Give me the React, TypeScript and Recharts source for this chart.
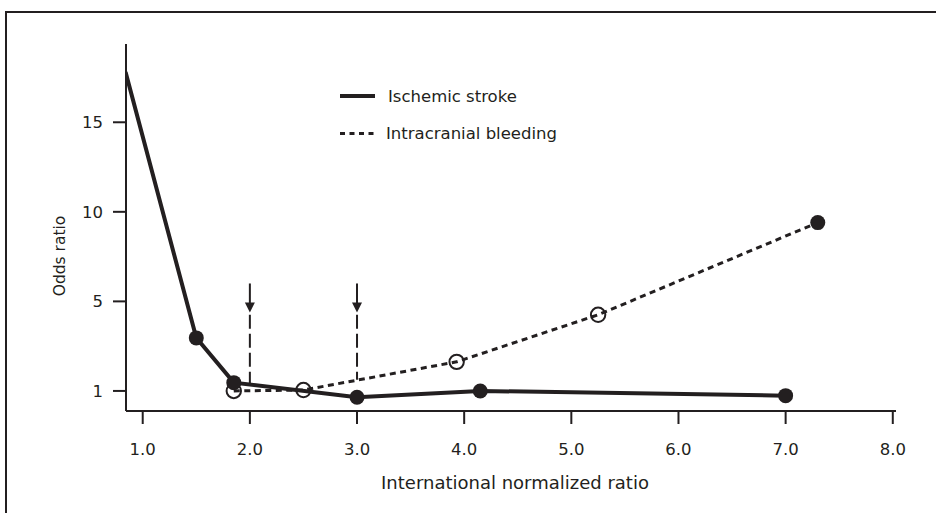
import React from 'react';
import { LineChart, Line, XAxis, YAxis, ReferenceLine, ReferenceDot, Customized } from 'recharts';

// Ischemic stroke (solid line, filled markers)
const strokeINR = [0.84, 1.5, 1.85, 3.0, 4.15, 7.0];
const strokeOR = [17.8, 3.37, 1.37, 0.72, 1.0, 0.79];
// Intracranial bleeding (dashed line, open markers, last filled)
const bleedINR = [1.85, 2.5, 3.93, 5.25, 7.3];
const bleedOR = [1.0, 1.04, 2.3, 4.4, 9.4];

const xTicks = [1, 2, 3, 4, 5, 6, 7, 8];
const yTickLabels = [1, 5, 10, 15];

// Therapeutic range markers
const targetINR = [2.0, 3.0];
const targetTop = 6.0;
const targetTip = 4.5;
const targetBottom = [1.35, 1.5];

const INK = '#231f20';
const FONT = '"DejaVu Sans", sans-serif';

// axis position for an odds ratio (the chart's y axis puts 1 where 0 would be)
const toAxis = (v: number) => (v >= 5 ? v : ((v - 1) * 5) / 4);
const fromAxis = (a: number) => (a >= 5 ? a : 1 + (a * 4) / 5);

const strokeData = strokeINR.map((x, i) => ({ x, y: toAxis(strokeOR[i]) }));
const bleedData = bleedINR.map((x, i) => ({ x, y: toAxis(bleedOR[i]) }));
const yTicks = yTickLabels.map(toAxis);

const bleedDot = (props: any) => {
  const { cx, cy, index } = props;
  const last = index === bleedData.length - 1;
  if (last) return <circle key={`bd${index}`} cx={cx} cy={cy} r={7.5} fill={INK} stroke="none" />;
  return <circle key={`bd${index}`} cx={cx} cy={cy} r={7.2} fill="none" stroke={INK} strokeWidth={2} />;
};

const strokeDot = (props: any) => {
  const { cx, cy, index } = props;
  if (index === 0) return <g key={`sd${index}`} />;
  return <circle key={`sd${index}`} cx={cx} cy={cy} r={7.5} fill={INK} stroke="none" />;
};

const arrowHead = (props: any) => {
  const { cx, cy } = props;
  return <path d={`M${cx - 5},${cy - 10} L${cx + 5},${cy - 10} L${cx},${cy} Z`} fill={INK} stroke="none" />;
};

const Decorations = () => (
  <g fontFamily={FONT} fill={INK}>
    <line x1={340} y1={96} x2={375} y2={96} stroke={INK} strokeWidth={4} />
    <text x={388} y={101.5} fontSize={16.5}>Ischemic stroke</text>
    <line x1={340} y1={133.5} x2={375} y2={133.5} stroke={INK} strokeWidth={3} strokeDasharray="5 4.5" />
    <text x={386} y={139} fontSize={16.5}>Intracranial bleeding</text>
    <text x={515} y={488.5} fontSize={18} textAnchor="middle">International normalized ratio</text>
    <text x={0} y={0} fontSize={15.5} textAnchor="middle" transform="translate(65,256) rotate(-90)">Odds ratio</text>
  </g>
);

export default function App() {
  return (
    <div style={{ position: 'absolute', left: 0, top: 0, width: 936, height: 513, overflow: 'hidden', background: '#fff' }}>
      <div style={{ position: 'absolute', left: 5, top: 11, width: 960, height: 540, borderLeft: `2px solid ${INK}`, borderTop: `2px solid ${INK}` }} />
      <LineChart width={936} height={513} margin={{ top: 44, right: 40, bottom: 42, left: 66 }}>
        <XAxis
          dataKey="x"
          type="number"
          domain={[0.844, 8.03]}
          ticks={xTicks}
          allowDataOverflow
          tickFormatter={(v: number) => v.toFixed(1)}
          height={60}
          tickSize={13}
          tickMargin={19}
          axisLine={{ stroke: INK, strokeWidth: 2 }}
          tickLine={{ stroke: INK, strokeWidth: 2 }}
          tick={{ fill: INK, fontSize: 16.5, fontFamily: FONT }}
        />
        <YAxis
          type="number"
          domain={[-1.12, 19.37]}
          ticks={yTicks}
          allowDataOverflow
          tickFormatter={(v: number) => String(Math.round(fromAxis(v)))}
          width={60}
          tickSize={13}
          tickMargin={10}
          axisLine={{ stroke: INK, strokeWidth: 2 }}
          tickLine={{ stroke: INK, strokeWidth: 2 }}
          tick={{ fill: INK, fontSize: 16.5, fontFamily: FONT }}
        />
        {targetINR.map((x, i) => (
          <ReferenceLine
            key={`ts${i}`}
            segment={[{ x, y: toAxis(targetTop) }, { x, y: toAxis(targetTip) + 0.5 }]}
            stroke={INK}
            strokeWidth={2}
            ifOverflow="visible"
          />
        ))}
        {targetINR.map((x, i) => (
          <ReferenceLine
            key={`td${i}`}
            segment={[{ x, y: toAxis(targetTip) - 0.12 }, { x, y: toAxis(targetBottom[i]) }]}
            stroke={INK}
            strokeWidth={2}
            strokeDasharray="14 5"
            ifOverflow="visible"
          />
        ))}
        {targetINR.map((x, i) => (
          <ReferenceDot key={`ta${i}`} x={x} y={toAxis(targetTip)} shape={arrowHead} ifOverflow="visible" />
        ))}
        <Line
          data={bleedData}
          dataKey="y"
          type="linear"
          stroke={INK}
          strokeWidth={3}
          strokeDasharray="6 4.5"
          dot={bleedDot}
          activeDot={false}
          isAnimationActive={false}
        />
        <Line
          data={strokeData}
          dataKey="y"
          type="linear"
          stroke={INK}
          strokeWidth={4}
          dot={strokeDot}
          activeDot={false}
          isAnimationActive={false}
        />
        <Customized component={Decorations} />
      </LineChart>
    </div>
  );
}
